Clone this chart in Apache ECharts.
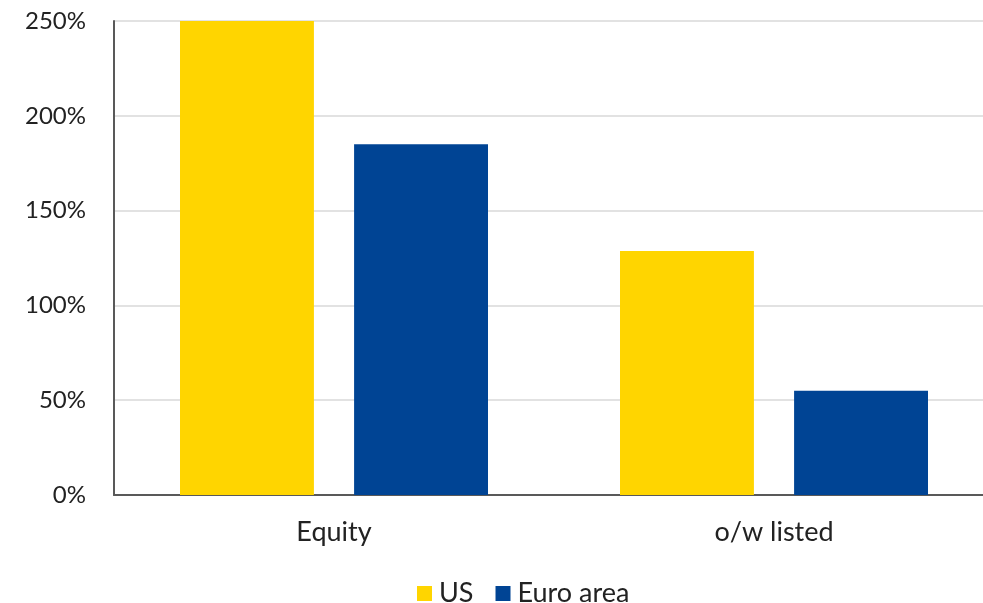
<!DOCTYPE html>
<html>
<head>
<meta charset="utf-8">
<script src="https://cdn.jsdelivr.net/npm/echarts@6/dist/echarts.min.js"></script>
<style>
  html, body { margin: 0; padding: 0; background: #fff; overflow: hidden; }
</style>
</head>
<body>
<!-- the original plot runs off the right edge, so the chart is a bit wider than the window -->
<div id="chart" style="width: 994px; height: 603px"></div>
<script>
  // data
  const categories = ['Equity', 'o/w listed'];
  const usValues = [250, 128.7];
  const euroValues = [185, 55];
  const yTicks = [0, 50, 100, 150, 200, 250];

  const chart = echarts.init(document.getElementById('chart'));

  const font = 'Lato, "Open Sans", sans-serif';

  const option = {
    animation: false,
    grid: {
      left: 114,
      right: 0,
      top: 21,
      bottom: 108,
    },
    legend: {
      data: ['US', 'Euro area'],
      left: 412,
      top: 575,
      icon: 'rect',
      itemWidth: 15,
      itemHeight: 15,
      itemGap: 22,
      textStyle: {
        fontFamily: font,
        fontSize: 27,
        color: '#222',
        padding: [0, 0, 0, 2],
      },
    },
    xAxis: {
      type: 'category',
      data: categories,
      axisLine: { lineStyle: { color: '#595959', width: 2 } },
      axisTick: { show: false },
      axisLabel: {
        fontFamily: font,
        fontSize: 27,
        color: '#222',
        margin: 24,
      },
    },
    yAxis: {
      type: 'value',
      min: yTicks[0],
      max: yTicks[yTicks.length - 1],
      interval: 50,
      axisLine: { show: true, lineStyle: { color: '#595959', width: 2 } },
      axisTick: { show: false },
      axisLabel: {
        fontFamily: font,
        fontSize: 24,
        color: '#222',
        margin: 28,
        formatter: '{value}%',
      },
      splitLine: { lineStyle: { color: '#d9d9d9', width: 1.5 } },
    },
    series: [
      {
        name: 'US',
        type: 'bar',
        data: usValues,
        barGap: '30%',
        barCategoryGap: '30%',
        itemStyle: { color: '#FFD500' },
      },
      {
        name: 'Euro area',
        type: 'bar',
        data: euroValues,
        itemStyle: { color: '#004494' },
      },
    ],
  };

  chart.setOption(option);
</script>
</body>
</html>
